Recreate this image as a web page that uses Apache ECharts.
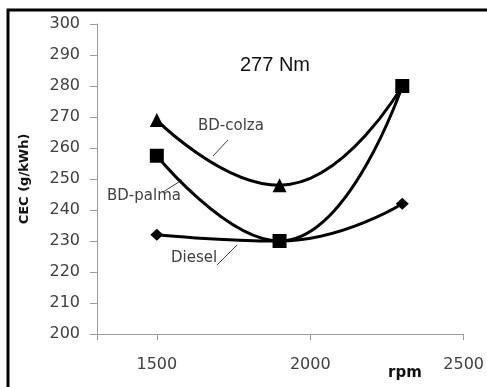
<!DOCTYPE html>
<html>
<head>
<meta charset="utf-8">
<script src="https://cdn.jsdelivr.net/npm/echarts@6/dist/echarts.min.js"></script>
<style>
	html, body { margin: 0; padding: 0; background: #fff; }
	#chart1 { width: 487px; height: 387px; }
</style>
</head>
<body>
<div id="chart1"></div>
<script>
var rpmList = [1500, 1900, 2300];
var colzaList = [269, 248, 280];
var palmaList = [257.5, 230, 280];
var dieselList = [232, 230, 242];
var xTickList = [1305, 1500, 2000, 2500];
var xLabelList = [1500, 2000, 2500];

var labelFont = '"DejaVu Sans", sans-serif';

function toPairs(xs, ys) {
	var out = [];
	for (var i = 0; i < xs.length; i++) {
		out.push([xs[i], ys[i]]);
	}
	return out;
}

var chart = echarts.init(document.getElementById('chart1'));
var option = {
	animation: false,
	backgroundColor: '#fff',
	grid: {
		left: 97,
		right: 17,
		top: 24,
		bottom: 53
	},
	xAxis: {
		type: 'value',
		min: 1305,
		max: 2500,
		splitLine: { show: false },
		axisLine: { lineStyle: { color: '#9a9a9a', width: 1 } },
		axisTick: {
			length: 6,
			customValues: xTickList,
			lineStyle: { color: '#9a9a9a' }
		},
		axisLabel: {
			customValues: xLabelList,
			formatter: function(v) { return String(v); },
			margin: 23,
			fontFamily: labelFont,
			fontSize: 16,
			color: '#404040'
		}
	},
	yAxis: {
		type: 'value',
		min: 200,
		max: 300,
		interval: 10,
		name: 'CEC (g/kWh)',
		nameLocation: 'middle',
		nameGap: 66,
		nameTextStyle: {
			fontFamily: labelFont,
			fontWeight: 'bold',
			fontSize: 13,
			color: '#111'
		},
		splitLine: { show: false },
		axisLine: { show: true, lineStyle: { color: '#9a9a9a', width: 1 } },
		axisTick: { show: true, length: 7, lineStyle: { color: '#9a9a9a' } },
		axisLabel: {
			margin: 17,
			fontFamily: labelFont,
			fontSize: 16,
			color: '#404040'
		}
	},
	series: [{
		name: 'Diesel',
		type: 'line',
		smooth: 0.5,
		data: toPairs(rpmList, dieselList),
		symbol: 'diamond',
		symbolSize: [13, 12],
		lineStyle: { color: '#000', width: 3 },
		itemStyle: { color: '#000' }
	}, {
		name: 'BD-palma',
		type: 'line',
		smooth: 0.5,
		data: toPairs(rpmList, palmaList),
		symbol: 'rect',
		symbolSize: 14,
		lineStyle: { color: '#000', width: 3 },
		itemStyle: { color: '#000' }
	}, {
		name: 'BD-colza',
		type: 'line',
		smooth: 0.5,
		data: toPairs(rpmList, colzaList),
		symbol: 'triangle',
		symbolSize: 14,
		lineStyle: { color: '#000', width: 3 },
		itemStyle: { color: '#000' }
	}],
	graphic: [{
		// marco exterior
		type: 'rect',
		shape: { x: 8, y: 10, width: 700, height: 700 },
		style: { fill: null, stroke: '#000', lineWidth: 3 },
		silent: true
	}, {
		type: 'text',
		left: 240,
		top: 55,
		style: { text: '277 Nm', fontFamily: 'Liberation Sans, Arial, sans-serif', fontSize: 20, fill: '#111' }
	}, {
		type: 'text',
		left: 198,
		top: 119,
		style: { text: 'BD-colza', fontFamily: labelFont, fontSize: 15, fill: '#404040' }
	}, {
		type: 'line',
		shape: { x1: 228, y1: 140, x2: 213, y2: 156 },
		style: { stroke: '#404040', lineWidth: 1 }
	}, {
		type: 'text',
		left: 107,
		top: 189,
		style: { text: 'BD-palma', fontFamily: labelFont, fontSize: 15, fill: '#404040' }
	}, {
		type: 'line',
		shape: { x1: 163, y1: 192, x2: 182, y2: 180 },
		style: { stroke: '#404040', lineWidth: 1 }
	}, {
		type: 'text',
		left: 171,
		top: 251,
		style: { text: 'Diesel', fontFamily: labelFont, fontSize: 15, fill: '#404040' }
	}, {
		type: 'line',
		shape: { x1: 217, y1: 265, x2: 237, y2: 245 },
		style: { stroke: '#404040', lineWidth: 1 }
	}, {
		type: 'text',
		left: 388,
		top: 366,
		style: { text: 'rpm', fontFamily: labelFont, fontWeight: 'bold', fontSize: 15, fill: '#111' }
	}]
};
chart.setOption(option);
</script>
</body>
</html>
